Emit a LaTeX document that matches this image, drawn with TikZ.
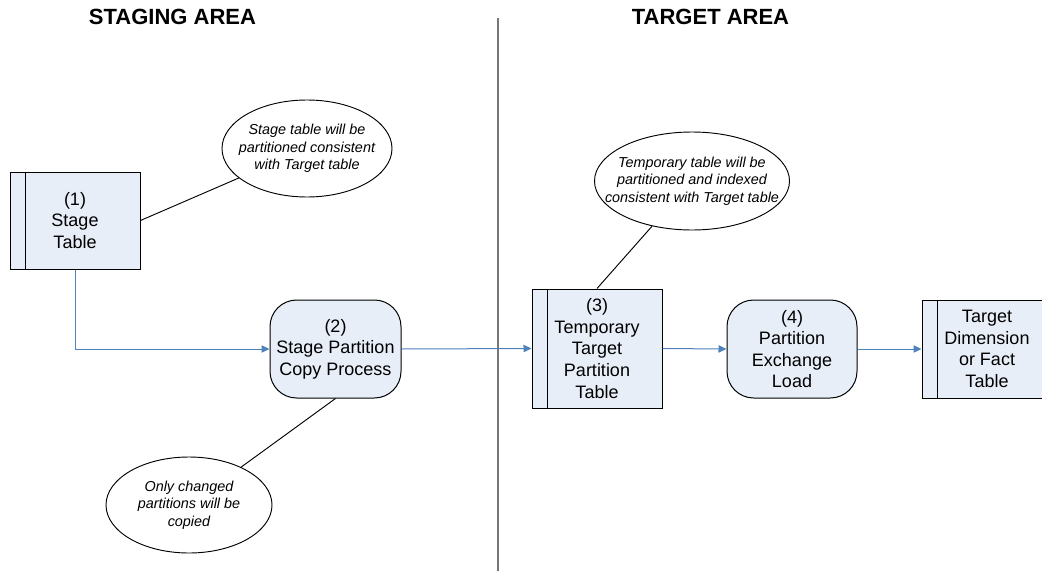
\documentclass[tikz,border=0pt]{standalone}
\usepackage{fontspec}
\setmainfont{Liberation Sans}
\usetikzlibrary{shapes.geometric,arrows.meta}
\definecolor{boxfill}{HTML}{E8EEF8}
\definecolor{flowblue}{HTML}{4F81BD}
\definecolor{divider}{HTML}{767676}
\begin{document}
\begin{tikzpicture}[x=0.75pt,y=-0.75pt,
  every node/.style={inner sep=0pt, align=center},
  body/.style={font=\fontsize{13.5}{16.2}\selectfont},
  tablebox/.style={body, draw, fill=boxfill, line width=0.75pt, minimum width=97.5pt},
  procbox/.style={body, draw, fill=boxfill, line width=0.75pt, rounded corners=20pt,
    minimum width=98.25pt, minimum height=73.5pt},
  note/.style={draw, ellipse, line width=0.7pt},
  notetext/.style={font=\fontsize{10.8}{13}\selectfont\itshape},
  heading/.style={font=\fontsize{16.5}{18}\selectfont\bfseries},
  flow/.style={flowblue, line width=0.75pt, -{Triangle[length=6pt,width=5.5pt]}},
  tie/.style={line width=0.7pt}
]
\useasboundingbox (0,0) rectangle (1042,571);
\clip (0,0) rectangle (1042,571);

% headings and the divider between the two areas
\node[heading] (hstage) at (172.5,17) {STAGING AREA};
\node[heading] (htarget) at (710.5,17) {TARGET AREA};
\coordinate (dtop) at (498,18);
\coordinate (dbot) at (498,571);
\draw[divider, line width=1.3pt] (dtop) -- (dbot);

% tables and processes
\node[tablebox, minimum height=72.75pt] (t1) at (75,220.5) {(1)\\Stage\\Table};
\node[procbox] (p2) at (335.5,349) {(2)\\Stage Partition\\Copy Process};
\node[tablebox, minimum height=89.25pt] (t3) at (597,348.5) {(3)\\Temporary\\Target\\Partition\\Table};
\node[procbox, minimum width=97.5pt] (p4) at (792,349) {(4)\\Partition\\Exchange\\Load};
\node[tablebox, minimum height=73.5pt] (t5) at (987,349) {Target\\Dimension\\or Fact\\Table};

% side strips of the table symbols
\draw[line width=0.75pt] ([xshift=12pt]t1.north west) -- ([xshift=12pt]t1.south west);
\draw[line width=0.75pt] ([xshift=12pt]t3.north west) -- ([xshift=12pt]t3.south west);
\draw[line width=0.75pt] ([xshift=12pt]t5.north west) -- ([xshift=12pt]t5.south west);

% notes
\node[note, minimum width=127.5pt, minimum height=72.75pt] (e1) at (307,148.5) {};
\node[notetext] (e1t) at (e1.center) {Stage table will be\\partitioned consistent\\with Target table};
\node[note, minimum width=146.25pt, minimum height=73.5pt] (e2) at (692,181) {};
\node[notetext] (e2t) at (e2.center) {Temporary table will be\\partitioned and indexed\\consistent with Target table};
\node[note, minimum width=124.5pt, minimum height=72pt] (e3) at (189,505) {};
\node[notetext] (e3t) at (e3.center) {Only changed\\partitions will be\\copied};

% note connectors
\draw[tie] (t1.east) -- (e1);
\draw[tie] (t3.north) -- (e2);
\draw[tie] (p2.south) -- (e3);

% data flow
\draw[flow] (t1.south) |- (p2.west);
\draw[flow] (p2.east) -- (t3.west);
\draw[flow] (t3.east) -- (p4.west);
\draw[flow] (p4.east) -- (t5.west);
\end{tikzpicture}
\end{document}
